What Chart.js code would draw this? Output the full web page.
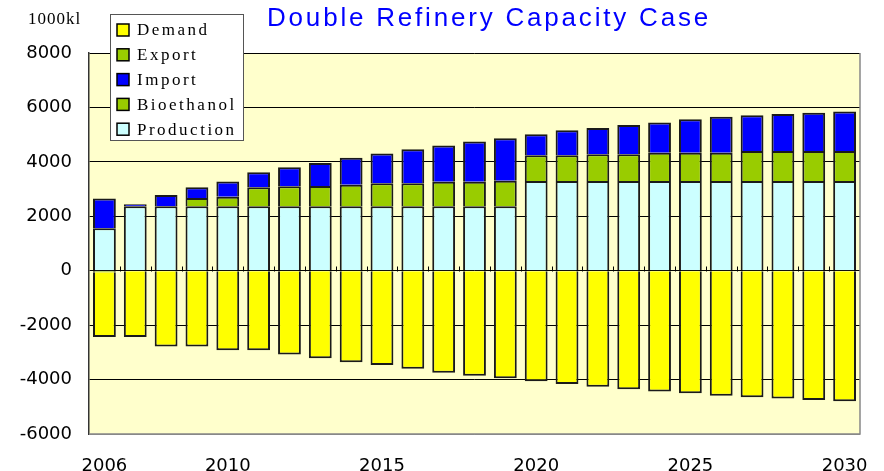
<!DOCTYPE html>
<html>
<head>
<meta charset="utf-8">
<script src="https://cdn.jsdelivr.net/npm/chart.js@4.4.0/dist/chart.umd.min.js"></script>
<style>
  html, body { margin: 0; padding: 0; background: #fff; }
  #wrap { width: 884px; height: 471px; }
</style>
</head>
<body>
<div id="wrap"><canvas id="chart" width="884" height="471"></canvas></div>
<script>
// Data (1000kl)
const years = ['2006', '2007', '2008', '2009', '2010', '2011', '2012', '2013', '2014', '2015',
    '2016', '2017', '2018', '2019', '2020', '2021', '2022', '2023', '2024', '2025',
    '2026', '2027', '2028', '2029', '2030'];
const shownYears = ['2006', '2010', '2015', '2020', '2025', '2030'];
const production = [1560, 2370, 2370, 2370, 2370, 2370, 2370, 2370, 2370, 2370,
    2370, 2370, 2370, 2370, 3300, 3300, 3300, 3300, 3300, 3300,
    3300, 3300, 3300, 3300, 3300];
const bioethanol = [0, 0, 0, 305, 350, 700, 735, 745, 790, 840,
    840, 900, 900, 940, 940, 940, 975, 975, 1035, 1035,
    1035, 1100, 1100, 1100, 1100];
const imports = [1090, 70, 415, 395, 555, 550, 700, 845, 995, 1100,
    1250, 1330, 1475, 1560, 775, 920, 970, 1080, 1115, 1230,
    1325, 1310, 1355, 1400, 1450];
const exports = [-60, 0, 0, 0, 0, 0, 0, 0, 0, 0,
    0, 0, 0, 0, 0, 0, 0, 0, 0, 0,
    0, 0, 0, 0, 0];
const demand = [-2380, -2440, -2785, -2785, -2920, -2920, -3075, -3215, -3360, -3460,
    -3600, -3750, -3855, -3950, -4060, -4160, -4260, -4360, -4440, -4500,
    -4590, -4650, -4700, -4750, -4800];
const yTicks = [-6000, -4000, -2000, 0, 2000, 4000, 6000, 8000];

// Colours
const colors = {
    demand: '#FFFF00',
    export: '#99CC00',
    import: '#0000FF',
    bio: '#99CC00',
    production: '#CCFFFF'
};

const legendItems = [
    { label: 'Demand', color: colors.demand },
    { label: 'Export', color: colors.export },
    { label: 'Import', color: colors.import },
    { label: 'Bioethanol', color: colors.bio },
    { label: 'Production', color: colors.production }
];

// Plot background
const plotBackground = {
    id: 'plotBackground',
    beforeDraw(chart) {
        const { ctx, chartArea: a } = chart;
        ctx.save();
        ctx.fillStyle = '#FFFFCC';
        ctx.fillRect(a.left, a.top, a.width, a.height);
        ctx.restore();
    }
};

// Small category ticks on the zero line
const zeroTicks = {
    id: 'zeroTicks',
    beforeDatasetsDraw(chart) {
        const { ctx, scales } = chart;
        const x = scales.x, y = scales.y;
        const y0 = Math.round(y.getPixelForValue(0)) + 0.5;
        const step = x.width / years.length;
        ctx.save();
        ctx.strokeStyle = '#000';
        ctx.lineWidth = 1;
        ctx.beginPath();
        for (let i = 1; i < years.length; i++) {
            const px = Math.round(x.left + i * step) + 0.5;
            ctx.moveTo(px, y0 - 5);
            ctx.lineTo(px, y0);
        }
        ctx.stroke();
        ctx.restore();
    }
};

// Plot frame, title, unit, legend
const overlay = {
    id: 'overlay',
    afterDraw(chart) {
        const { ctx, chartArea: a } = chart;
        ctx.save();
        // right and bottom frame
        ctx.strokeStyle = '#888';
        ctx.lineWidth = 1.5;
        ctx.beginPath();
        ctx.moveTo(a.right, a.top);
        ctx.lineTo(a.right, a.bottom);
        ctx.lineTo(a.left, a.bottom);
        ctx.stroke();

        // title
        ctx.fillStyle = '#0000FF';
        ctx.font = '26px "Liberation Sans", Arial, sans-serif';
        ctx.letterSpacing = '2.8px';
        ctx.textAlign = 'center';
        ctx.textBaseline = 'middle';
        ctx.fillText('Double Refinery Capacity Case', 489, 19);

        // unit
        ctx.fillStyle = '#000';
        ctx.font = '17px "Liberation Serif", "Times New Roman", serif';
        ctx.letterSpacing = '1px';
        ctx.textAlign = 'left';
        ctx.fillText('1000kl', 28, 20);

        // legend
        const lx = 110, ly = 14, lw = 133, lh = 126;
        ctx.fillStyle = '#fff';
        ctx.fillRect(lx, ly, lw, lh);
        ctx.strokeStyle = '#555';
        ctx.lineWidth = 1;
        ctx.strokeRect(lx + 0.5, ly + 0.5, lw, lh);
        ctx.font = '17px "Liberation Serif", "Times New Roman", serif';
        ctx.letterSpacing = '2.5px';
        legendItems.forEach((item, i) => {
            const cy = 30 + i * 24.8;
            ctx.fillStyle = item.color;
            ctx.fillRect(117, cy - 6, 12, 12);
            ctx.strokeStyle = '#000';
            ctx.lineWidth = 1.5;
            ctx.strokeRect(117, cy - 6, 12, 12);
            ctx.fillStyle = '#000';
            ctx.fillText(item.label, 137, cy + 1);
        });
        ctx.restore();
    }
};

const barStyle = {
    borderColor: '#1a1a1a',
    borderWidth: c => (c.raw === 0 ? 0 : 2),
    borderSkipped: 'start',
    barPercentage: 0.74,
    categoryPercentage: 1.0
};

new Chart(document.getElementById('chart'), {
    type: 'bar',
    data: {
        labels: years,
        datasets: [
            { label: 'Production', data: production, backgroundColor: colors.production, ...barStyle },
            { label: 'Bioethanol', data: bioethanol, backgroundColor: colors.bio, ...barStyle },
            { label: 'Import', data: imports, backgroundColor: colors.import, ...barStyle },
            { label: 'Export', data: exports, backgroundColor: colors.export, ...barStyle },
            { label: 'Demand', data: demand, backgroundColor: colors.demand, ...barStyle }
        ]
    },
    options: {
        responsive: false,
        animation: false,
        layout: { padding: { top: 53, right: 24, left: 0, bottom: 0 } },
        plugins: {
            legend: { display: false },
            title: { display: false },
            tooltip: { enabled: false }
        },
        scales: {
            x: {
                stacked: true,
                grid: { display: false },
                border: { display: false },
                ticks: {
                    autoSkip: false,
                    maxRotation: 0,
                    color: '#000',
                    padding: 14,
                    font: { family: '"DejaVu Sans", sans-serif', size: 18 },
                    callback: function (value) {
                        const lbl = this.getLabelForValue(value);
                        return shownYears.includes(lbl) ? lbl : '';
                    }
                },
                afterFit(scale) { scale.height = 37; }
            },
            y: {
                stacked: true,
                min: -6000,
                max: 8000,
                afterBuildTicks(scale) {
                    scale.ticks = yTicks.map(v => ({ value: v }));
                },
                grid: {
                    color: ctx => ctx.tick && ctx.tick.value === -6000 ? '#888' : '#000',
                    lineWidth: 1,
                    drawTicks: false
                },
                border: { display: true, color: '#333', width: 1.5 },
                ticks: {
                    color: '#000',
                    padding: 17,
                    font: { family: '"DejaVu Sans", sans-serif', size: 18 },
                    callback: v => String(v)
                },
                afterFit(scale) { scale.width = 89; }
            }
        }
    },
    plugins: [plotBackground, zeroTicks, overlay]
});
</script>
</body>
</html>
